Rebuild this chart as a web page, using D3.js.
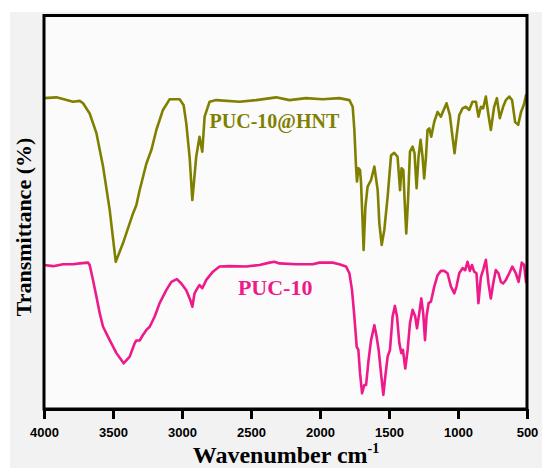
<!DOCTYPE html>
<html lang="en">
<head>
  <meta charset="UTF-8">
  <title>FTIR spectra</title>
  <style>
    body { margin: 0; background: #fff; }
    svg { display: block; }
  </style>
</head>
<body>
  <svg id="svg" width="542" height="468"></svg>

  <script src="https://d3js.org/d3.v7.min.js"></script>
  <script>
    // wavenumber ticks (cm-1)
    const xTicks = [4000, 3500, 3000, 2500, 2000, 1500, 1000, 500]

    // PUC-10@HNT spectrum (olive)
    const hntWave = [4000, 3910, 3789, 3741, 3717, 3669, 3620, 3572, 3524, 3480, 3428, 3355, 3331, 3307, 3258, 3222, 3186, 3138, 3090, 3017,
      2988, 2969, 2945, 2925, 2897, 2873, 2853, 2836, 2800, 2752, 2583, 2462, 2318, 2221, 2101, 1980, 1860, 1787, 1763, 1751,
      1739, 1732, 1722, 1710, 1703, 1691, 1684, 1671, 1655, 1630, 1606, 1582, 1570, 1553, 1534, 1510, 1485, 1462, 1438, 1420,
      1409, 1396, 1387, 1375, 1362, 1348, 1329, 1315, 1300, 1286, 1271, 1257, 1245, 1232, 1221, 1208, 1194, 1172, 1148, 1124,
      1083, 1059, 1040, 1025, 1011, 991, 967, 943, 919, 895, 870, 852, 834, 818, 798, 781, 762, 738, 718, 697,
      673, 653, 629, 608, 586, 564, 543, 521, 506]
    const hntT = [79.0, 79.2, 78.1, 78.3, 77.7, 75.1, 70.1, 61.6, 50.6, 37.4, 42.1, 49.7, 51.8, 55.6, 62.4, 65.8, 70.9, 76.0, 78.7, 78.7,
      77.2, 72.6, 64.1, 53.1, 64.1, 69.2, 65.4, 74.3, 78.1, 78.5, 78.1, 78.5, 79.2, 78.5, 79.0, 78.7, 79.0, 78.5, 76.8, 70.9,
      61.6, 57.8, 61.2, 60.7, 57.8, 47.2, 40.4, 51.4, 56.5, 58.2, 61.6, 55.6, 47.2, 41.7, 45.5, 53.9, 64.5, 65.1, 64.1, 55.6,
      61.2, 60.7, 53.1, 44.6, 53.1, 65.4, 66.7, 65.0, 56.1, 64.1, 68.4, 64.1, 58.6, 64.1, 70.9, 71.3, 69.2, 73.0, 75.5, 74.3,
      77.7, 74.7, 69.2, 65.0, 69.2, 74.7, 76.4, 76.8, 76.0, 78.1, 78.1, 74.3, 76.8, 76.4, 79.4, 75.1, 70.9, 76.8, 79.0, 73.9,
      76.8, 78.5, 79.4, 78.5, 72.9, 72.2, 75.5, 77.5, 80.0]

    // PUC-10 spectrum (pink)
    const pucWave = [4000, 3934, 3862, 3789, 3741, 3681, 3669, 3645, 3620, 3596, 3572, 3524, 3475, 3423, 3379, 3343, 3331, 3307, 3283, 3258,
      3234, 3198, 3162, 3114, 3077, 3037, 3005, 2969, 2940, 2925, 2909, 2885, 2873, 2853, 2824, 2776, 2728, 2656, 2535, 2438,
      2366, 2330, 2294, 2173, 2053, 2004, 1908, 1860, 1811, 1787, 1768, 1751, 1734, 1722, 1710, 1695, 1679, 1666, 1648, 1630,
      1606, 1590, 1575, 1558, 1541, 1527, 1510, 1493, 1474, 1457, 1442, 1425, 1411, 1399, 1382, 1365, 1348, 1329, 1310, 1297,
      1281, 1266, 1252, 1239, 1228, 1213, 1196, 1172, 1148, 1124, 1100, 1076, 1051, 1027, 1011, 991, 967, 948, 931, 914,
      899, 883, 866, 852, 834, 818, 798, 779, 762, 745, 726, 707, 689, 673, 653, 629, 606, 581, 561, 538,
      521, 506]
    const pucT = [36.6, 36.3, 36.8, 36.8, 37.0, 37.2, 36.6, 32.8, 28.5, 24.3, 20.9, 17.5, 14.2, 11.6, 13.3, 16.7, 17.4, 17.4, 18.8, 20.1,
      20.9, 23.5, 26.9, 30.2, 32.3, 33.0, 31.9, 30.2, 27.7, 26.0, 29.4, 30.9, 31.5, 30.7, 32.8, 34.9, 36.2, 36.3, 36.2, 36.6,
      37.2, 37.4, 37.0, 36.8, 36.8, 37.2, 37.2, 36.8, 36.2, 34.5, 30.2, 23.5, 15.8, 15.0, 9.1, 4.0, 6.1, 6.1, 12.5, 17.5,
      21.3, 18.4, 15.0, 9.1, 3.6, 8.2, 13.3, 15.0, 23.5, 26.2, 23.5, 16.7, 14.2, 15.0, 10.3, 15.0, 21.8, 25.2, 23.5, 20.5,
      24.3, 28.1, 24.3, 17.5, 23.5, 26.9, 27.3, 31.1, 34.0, 35.1, 35.1, 34.5, 31.1, 29.4, 31.1, 34.5, 35.8, 35.3, 37.4, 35.1,
      36.6, 34.9, 34.5, 26.9, 33.6, 35.3, 37.9, 31.9, 28.1, 31.9, 35.3, 34.5, 32.3, 31.9, 32.8, 34.5, 36.2, 34.5, 32.3, 37.2,
      36.6, 32.0]

    const series = [
      { name: 'PUC-10@HNT', wave: hntWave, t: hntT, color: '#808000', label: [2330, 71.5], size: 20 },
      { name: 'PUC-10', wave: pucWave, t: pucT, color: '#ee1a8a', label: [2325, 28.9], size: 22 }
    ]

    const W = 542, H = 468
    const margin = { top: 15.5, right: 15, bottom: 59, left: 44 }
    const svg = d3.select('#svg')

    // background: grey page with white plot area
    svg.append('rect').attr('x', 10).attr('y', 12).attr('width', W - 10).attr('height', H - 12).attr('fill', '#f2f2f2')

    const x = d3.scaleLinear().domain([4000, 500]).range([margin.left, W - margin.right])
    const y = d3.scaleLinear().domain([0, 100]).range([H - margin.bottom, margin.top])

    svg.append('rect')
      .attr('x', margin.left).attr('y', margin.top)
      .attr('width', W - margin.right - margin.left)
      .attr('height', H - margin.bottom - margin.top)
      .attr('fill', '#fbfbfb')

    const line = d3.line()
      .x(d => x(d[0]))
      .y(d => y(d[1]))

    series.forEach(s => {
      const pts = s.wave.map((w, i) => [w, s.t[i]])
      svg.append('path')
        .datum(pts)
        .attr('d', line)
        .attr('fill', 'none')
        .attr('stroke', s.color)
        .attr('stroke-width', 2.6)
        .attr('stroke-linejoin', 'round')

      svg.append('text')
        .attr('x', x(s.label[0]))
        .attr('y', y(s.label[1]))
        .attr('text-anchor', 'middle')
        .attr('font-family', '"Liberation Serif", "Times New Roman", serif')
        .attr('font-weight', 'bold')
        .attr('font-size', s.size)
        .attr('fill', s.color)
        .text(s.name)
    })

    // frame
    svg.append('rect')
      .attr('x', margin.left).attr('y', margin.top)
      .attr('width', W - margin.right - margin.left)
      .attr('height', H - margin.bottom - margin.top)
      .attr('fill', 'none')
      .attr('stroke', '#000')
      .attr('stroke-width', 3)

    // x axis
    const xAxis = svg.append('g')
      .attr('transform', `translate(0,${H - margin.bottom})`)
      .call(d3.axisBottom(x).tickValues(xTicks).tickFormat(d3.format('d'))
        .tickSize(10).tickPadding(9).tickSizeOuter(0))
    xAxis.select('.domain').attr('stroke-width', 3)
    xAxis.selectAll('.tick line').attr('stroke-width', 3)
    xAxis.selectAll('.tick text')
      .attr('font-family', '"Liberation Sans", Arial, sans-serif')
      .attr('font-weight', 'bold')
      .attr('font-size', 13)
      .attr('fill', '#000')

    // axis titles
    const xTitle = svg.append('text')
      .attr('x', 286)
      .attr('y', 463)
      .attr('text-anchor', 'middle')
      .attr('font-family', '"Liberation Serif", "Times New Roman", serif')
      .attr('font-weight', 'bold')
      .attr('font-size', 24)
      .attr('fill', '#000')
    xTitle.append('tspan').text('Wavenumber cm')
    xTitle.append('tspan').attr('dy', -10).attr('font-size', 14).text('-1')

    svg.append('text')
      .attr('transform', 'translate(31,227) rotate(-90)')
      .attr('text-anchor', 'middle')
      .attr('font-family', '"Liberation Serif", "Times New Roman", serif')
      .attr('font-weight', 'bold')
      .attr('font-size', 22)
      .attr('fill', '#000')
      .text('Transmittance (%)')
  </script>
</body>
</html>
